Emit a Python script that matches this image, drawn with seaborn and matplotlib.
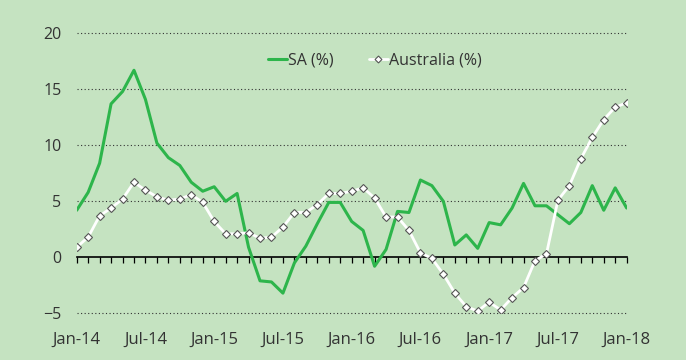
import matplotlib
matplotlib.use("Agg")
import matplotlib.pyplot as plt
from matplotlib.lines import Line2D
import numpy as np
import pandas as pd
import seaborn as sns

# Monthly growth, Jan-14 .. Jan-18
months = pd.date_range("2014-01-01", "2018-01-01", freq="MS")
sa_pct = [4.2, 5.8, 8.4, 13.7, 14.8, 16.7, 14.1, 10.2, 8.9, 8.2, 6.7, 5.9,
          6.3, 5.0, 5.7, 0.9, -2.1, -2.2, -3.2, -0.5, 1.0, 3.0, 4.9, 4.9,
          3.2, 2.4, -0.8, 0.7, 4.1, 4.0, 6.9, 6.4, 5.0, 1.1, 2.0, 0.8,
          3.1, 2.9, 4.4, 6.6, 4.6, 4.6, 3.8, 3.0, 4.0, 6.4, 4.2, 6.2, 4.4]
aus_pct = [0.9, 1.8, 3.7, 4.4, 5.2, 6.7, 6.0, 5.4, 5.1, 5.2, 5.6, 4.9,
           3.2, 2.1, 2.1, 2.2, 1.7, 1.8, 2.7, 4.0, 4.0, 4.7, 5.7, 5.7,
           5.9, 6.2, 5.3, 3.6, 3.6, 2.4, 0.4, -0.1, -1.5, -3.2, -4.4, -4.8,
           -4.0, -4.7, -3.6, -2.7, -0.3, 0.3, 5.1, 6.4, 8.8, 10.7, 12.3, 13.4, 13.8]
series_names = ["SA (%)", "Australia (%)"]
tick_labels = ["Jan-14", "Jul-14", "Jan-15", "Jul-15", "Jan-16",
               "Jul-16", "Jan-17", "Jul-17", "Jan-18"]

bg = "#c5e3c1"
green = "#2db54b"
text_col = "#333333"

sns.set_theme(style="white")
plt.rcParams["font.family"] = ["Open Sans", "DejaVu Sans"]

idx = np.arange(len(months))
sa_df = pd.DataFrame({"t": idx, "value": sa_pct})
aus_df = pd.DataFrame({"t": idx, "value": aus_pct})

fig = plt.figure(figsize=(6.86, 3.60), dpi=100, facecolor=bg)
ax = fig.add_axes([0.1118, 0.1297, 0.8017, 0.7778], facecolor=bg)

sns.lineplot(data=sa_df, x="t", y="value", color=green, linewidth=2.2,
             ax=ax, zorder=3)
sns.lineplot(data=aus_df, x="t", y="value", color="white", linewidth=2.0,
             marker="D", markersize=4.2, markerfacecolor="white",
             markeredgecolor="#555555", markeredgewidth=0.8, ax=ax, zorder=4)

ax.set_xlim(0, len(idx) - 1)
ax.set_ylim(-5, 20)

# dotted gridlines (zero handled by the axis line)
for yv in [-5, 5, 10, 15, 20]:
    ax.axhline(yv, color="#333333", linestyle=(0, (1, 2.2)), linewidth=0.8,
               zorder=1, clip_on=False)

for s in ["top", "right", "left"]:
    ax.spines[s].set_visible(False)
ax.spines["bottom"].set_position(("data", 0))
ax.spines["bottom"].set_color("black")
ax.spines["bottom"].set_linewidth(1.2)
ax.spines["bottom"].set_zorder(2)

ax.set_xticks(idx)
ax.tick_params(axis="x", which="major", direction="out", length=4,
               width=0.9, color="black", labelbottom=False, bottom=True)
ax.set_yticks([-5, 0, 5, 10, 15, 20])
ax.tick_params(axis="y", length=0, pad=11, labelsize=11.5, labelcolor=text_col)
ax.set_xlabel("")
ax.set_ylabel("")

sec = ax.secondary_xaxis(0.0)
sec.set_xticks(idx[::6])
sec.set_xticklabels(tick_labels)
sec.tick_params(length=0, pad=13, labelsize=12, labelcolor=text_col)
sec.spines["bottom"].set_visible(False)

handles = [Line2D([], [], color=green, linewidth=2.2),
           Line2D([], [], color="white", linewidth=2.0, marker="D",
                  markersize=3.5, markerfacecolor="white",
                  markeredgecolor="#555555", markeredgewidth=0.8)]
ax.legend(handles, series_names, loc="center", ncol=2,
          bbox_to_anchor=(0.542, 0.902), frameon=False, fontsize=11.5,
          handlelength=1.2, handletextpad=0.05, columnspacing=2.2,
          labelcolor=text_col)

fig.savefig("out.png", dpi=100, facecolor=bg)
